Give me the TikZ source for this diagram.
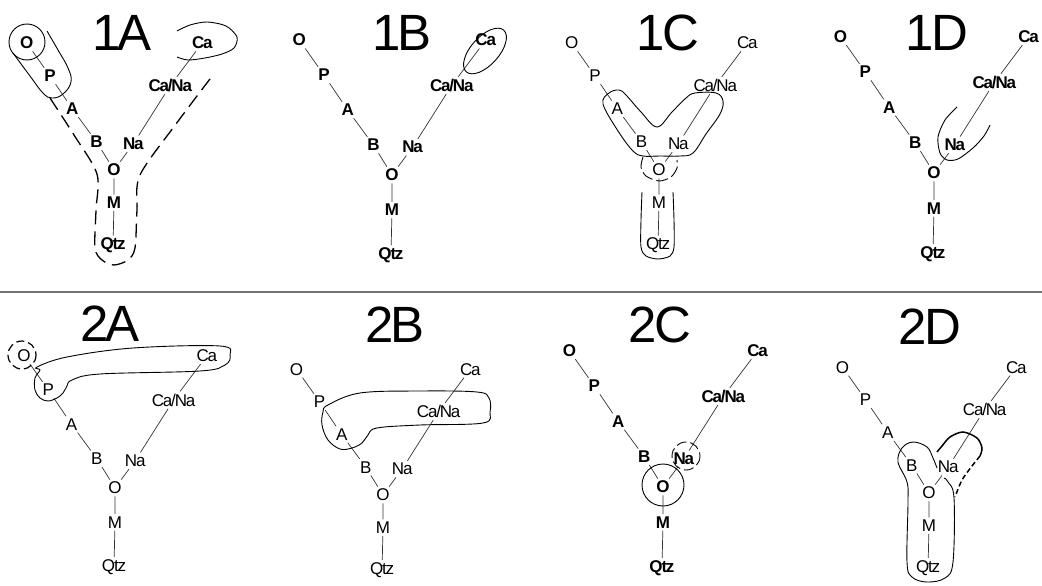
\documentclass[tikz,border=0pt]{standalone}
\usepackage{fontspec}
\setmainfont{Liberation Sans}
\newfontfamily\lblfont[LetterSpace=-7]{Liberation Sans}
\newfontfamily\ttlfont[LetterSpace=-5]{Liberation Sans}

% one Y-shaped tree: #1 name prefix, #2 centre, #3 scale, #4 label style
\newcommand{\ytree}[4]{%
  \begin{scope}[shift={#2}, scale=#3]
    \node[#4] (#1o)  at (0,0)      {O};
    \node[#4] (#1b)  at (-18,-29)  {B};
    \node[#4] (#1a)  at (-43,-63)  {A};
    \node[#4] (#1p)  at (-66,-97)  {P};
    \node[#4] (#1op) at (-90,-131) {O};
    \node[#4] (#1na) at (20,-27)   {Na};
    \node[#4] (#1cn) at (58,-87)   {Ca/Na};
    \node[#4] (#1ca) at (91,-131)  {Ca};
    \node[#4] (#1m)  at (0,34)     {M};
    \node[#4] (#1q)  at (-1,78)    {Qtz};
    \draw[edge] (#1op) -- (#1p) -- (#1a) -- (#1b) -- (#1o) -- (#1na) -- (#1cn) -- (#1ca);
    \draw[edge] (#1o) -- (#1m) -- (#1q);
  \end{scope}}

\begin{document}
\begin{tikzpicture}[
    x=1pt, y=-1pt,
    lbl/.style={
        inner sep=2.2pt,
        font=\lblfont\fontsize{17}{17}\selectfont
        },
    lblb/.style={
        lbl,
        font=\lblfont\fontsize{17}{17}\selectfont\bfseries
        },
    ttl/.style={
        inner sep=0pt,
        font=\ttlfont\fontsize{51}{51}\selectfont
        },
    edge/.style={
        draw=black!80,
        line width=0.7pt
        },
    loop/.style={
        draw=black,
        line width=0.9pt
        },
    dashloop/.style={
        loop,
        line width=1.3pt,
        dash pattern=on 14pt off 7pt
        },
    divider/.style={
        draw=black!55,
        line width=1.6pt
        },
]
\useasboundingbox (0,0) rectangle (1042,586);

\draw[divider] (0,292) -- (1042,292);

% titles
\node[ttl] (tupA) at (122,33)  {1A};
\node[ttl] (tupB) at (402,33)  {1B};
\node[ttl] (tupC) at (668,33)  {1C};
\node[ttl] (tupD) at (937,33)  {1D};
\node[ttl] (tloA) at (110,324) {2A};
\node[ttl] (tloB) at (395,325) {2B};
\node[ttl] (tloC) at (660,325) {2C};
\node[ttl] (tloD) at (930,327) {2D};

% trees
\ytree{upA}{(114,170)}{0.97}{lblb}
\ytree{upB}{(392,175)}{1.03}{lblb}
\ytree{upC}{(659,170)}{0.97}{lbl}
\ytree{upD}{(934,173)}{1.04}{lblb}
\ytree{loA}{(115,488)}{1.01}{lbl}
\ytree{loB}{(383,495)}{0.96}{lbl}
\ytree{loC}{(663,487)}{1.04}{lblb}
\ytree{loD}{(929,493)}{0.96}{lbl}

% 1A
\draw[loop] (27,42) circle [radius=18];
\draw[loop] plot[smooth, tension=0.7] coordinates {(13,53) (30,76) (43,93) (52,98) (63,94) (71,82) (68,68) (58,50) (47,31)};
\draw[loop] plot[smooth] coordinates {(177,31) (190,25) (207,22) (226,26) (237,37) (234,48) (222,54) (205,58) (188,60) (177,57)};
\draw[dashloop] plot[smooth, tension=0.5] coordinates {(50,98) (74,135) (97,174) (96,210) (95,248) (102,260) (114,265) (128,260) (135,248) (137,210) (140,175) (176,124) (213,75)};

% 1B
\draw[loop, rotate around={48:(485,51)}] (485,51) ellipse [x radius=28, y radius=14];

% 1C
\draw[loop] plot[smooth cycle, tension=0.6] coordinates {(603,104) (609,93) (619,90) (626,95) (641,112) (657,127) (672,112) (686,98) (695,93) (716,93) (723,101) (720,114) (706,134) (693,153) (680,156) (660,156) (643,156) (633,151) (618,131)};
\draw[loop, dash pattern=on 12pt off 4pt] plot[smooth] coordinates {(643,157) (641,167) (646,176) (659,181) (671,177) (677,168) (677,160)};
\draw[loop] plot[smooth] coordinates {(642,192) (641,220) (641,247) (646,256) (658,259) (670,256) (674,247) (674,220) (673,192)};

% 1D
\draw[loop] plot[smooth] coordinates {(957,107) (945,120) (938,137) (940,153) (947,160) (958,159) (973,148) (984,136) (990,125)};

% 2A
\draw[loop, line width=1.2pt, dash pattern=on 8pt off 4pt] (22,355) circle [radius=14];
\draw[loop] plot[smooth cycle, tension=0.6] coordinates {(37,367) (67,357) (133,348) (220,346) (230,355) (225,365) (200,371) (100,374) (72,380) (67,386) (63,393) (57,398) (48,401) (40,398) (35,390) (35,378) (40,370)};

% 2B
\draw[loop] plot[smooth cycle, tension=0.6] coordinates {(328,405) (360,393) (420,391) (477,392) (489,398) (490,412) (483,423) (420,425) (377,428) (368,435) (362,443) (352,448) (340,449) (328,440) (322,425) (323,412)};

% 2C
\draw[loop] (663,485) circle [radius=21];
\draw[loop, dash pattern=on 10pt off 4pt] (686,456) circle [radius=14];

% 2D
\draw[loop] plot[smooth, tension=0.6] coordinates {(937,468) (933,458) (927,447) (913,442) (902,448) (898,462) (907,482) (908,502) (907,562) (912,577) (927,582) (945,578) (953,562) (954,498) (948,482) (944,478)};
\draw[loop, line width=1.5pt] plot[smooth] coordinates {(937,452) (942,446) (950,437) (963,432) (977,438) (982,448) (980,456)};
\draw[loop, line width=1.5pt, dash pattern=on 5pt off 3pt] plot[smooth] coordinates {(980,456) (972,466) (962,480) (955,497)};

\end{tikzpicture}
\end{document}
